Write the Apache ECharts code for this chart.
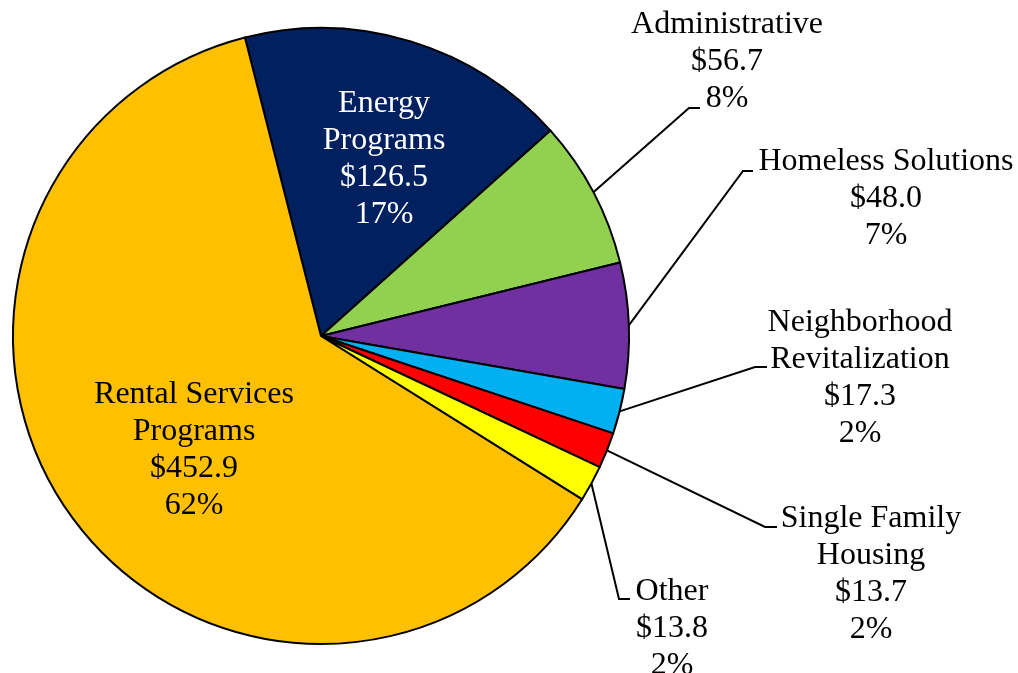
<!DOCTYPE html>
<html>
<head>
<meta charset="utf-8">
<title>Budget by program</title>
<script src="https://cdn.jsdelivr.net/npm/echarts@6/dist/echarts.min.js"></script>
<style>
  html, body { margin: 0; padding: 0; background: #fff; }
  #chart { width: 1018px; height: 673px; }
</style>
</head>
<body>
<div id="chart"></div>
<script>
// slices in clockwise order, starting just left of 12 o'clock
const categories = [
  'Energy\nPrograms',
  'Administrative',
  'Homeless Solutions',
  'Neighborhood\nRevitalization',
  'Single Family\nHousing',
  'Other',
  'Rental Services\nPrograms'
]
const amounts = [126.5, 56.7, 48.0, 17.3, 13.7, 13.8, 452.9]
const colors = ['#002060', '#92d050', '#7030a0', '#00b0f0', '#ff0000', '#ffff00', '#ffc000']

// label block centres and leader-line elbows (px)
const labelPos = [
  { x: 384, y: 159 },
  { x: 727, y: 62, elbow: [[689, 108], [700, 108]] },
  { x: 886, y: 199, elbow: [[743, 171], [753, 171]] },
  { x: 860, y: 378, elbow: [[755, 367], [767, 367]] },
  { x: 871, y: 574, elbow: [[765, 527], [777, 527]] },
  { x: 672, y: 629, elbow: [[619, 599], [630, 599]] },
  { x: 194, y: 450 }
]

const insideIdx = [0, 6]

const chart = echarts.init(document.getElementById('chart'), null, { renderer: 'canvas' })

const data = categories.map((name, i) => {
  const inside = insideIdx.includes(i)
  return {
    name,
    value: amounts[i],
    itemStyle: { color: colors[i] },
    label: {
      position: inside ? 'inside' : 'outside',
      color: i === 0 ? '#ffffff' : '#000000'
    },
    labelLine: { show: !inside }
  }
})

chart.setOption({
  animation: false,
  series: [
    {
      type: 'pie',
      center: [321, 336],
      radius: 308,
      startAngle: 104.3,
      clockwise: true,
      avoidLabelOverlap: false,
      emphasis: { disabled: true },
      itemStyle: { borderColor: '#000', borderWidth: 2 },
      label: {
        fontFamily: '"Liberation Serif", "Times New Roman", serif',
        fontSize: 32,
        lineHeight: 37,
        align: 'center',
        formatter: (p) => `${p.name}\n$${p.value.toFixed(1)}\n${Math.round(p.percent)}%`
      },
      labelLine: {
        lineStyle: { color: '#000', width: 2 }
      },
      labelLayout: (params) => {
        const pos = labelPos[params.dataIndex]
        const out = { x: pos.x, y: pos.y, align: 'center', verticalAlign: 'middle' }
        if (pos.elbow && params.labelLinePoints) {
          out.labelLinePoints = [params.labelLinePoints[0], ...pos.elbow]
        }
        return out
      },
      data
    }
  ]
})

window.addEventListener('resize', () => chart.resize())
</script>
</body>
</html>
